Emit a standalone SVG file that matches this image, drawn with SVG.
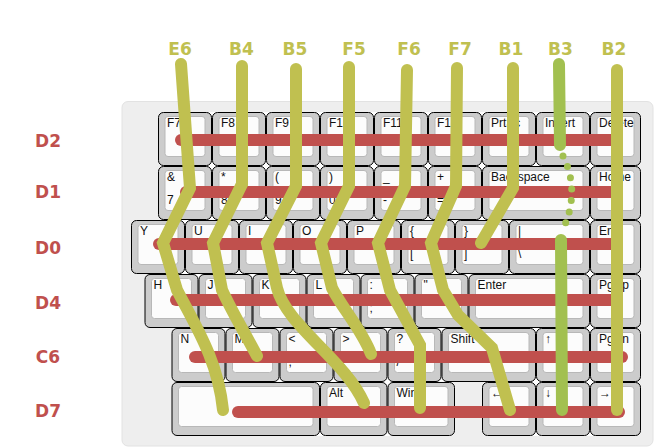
<svg xmlns="http://www.w3.org/2000/svg" width="664" height="447" viewBox="0 0 664 447">
<style>
.ul{fill:#ffffff}
.kb{fill:#cccccc;stroke:#000000;stroke-width:1}
.kf{fill:#fcfcfc;stroke:#b8b8b8;stroke-width:1}
.kl{font-family:"Liberation Sans",Arial,sans-serif;font-size:12px;fill:#111111}
.rt{fill:none;stroke:#c0504d;stroke-width:12;stroke-linecap:round}
.yt{fill:none;stroke:#c0c050;stroke-width:12;stroke-linecap:round;stroke-linejoin:miter}
.gt{fill:none;stroke:#a2c050;stroke-width:12;stroke-linecap:round}
.gd{fill:none;stroke:#a2c050;stroke-width:7;stroke-linecap:round;stroke-dasharray:0 11.5}
.rl{font-family:"DejaVu Sans",sans-serif;font-weight:bold;font-size:17px;fill:#c0504d;text-anchor:middle}
.cl{font-family:"DejaVu Sans",sans-serif;font-weight:bold;font-size:17px;fill:#c0c050;text-anchor:middle}
</style>
<rect x="122" y="101.5" width="531" height="344.5" rx="6" fill="#eeeeee" stroke="#e2e2e2"/>
<g id="underlay">
<rect class="ul" x="162" y="112" width="475" height="54"/>
<rect class="ul" x="162" y="166" width="475" height="54"/>
<rect class="ul" x="135" y="220" width="502" height="54"/>
<rect class="ul" x="148.5" y="274" width="488.5" height="54"/>
<rect class="ul" x="175.5" y="328" width="461.5" height="54"/>
<rect class="ul" x="175.5" y="382" width="275.5" height="54"/>
<rect class="ul" x="486" y="382" width="151" height="54"/>
</g>
<g id="keys">
<g id="k-F7"><rect class="kb" x="158.5" y="112.5" width="53" height="53" rx="5"/><rect class="kf" x="165" y="116.5" width="40" height="40" rx="3"/><text class="kl" x="167" y="127">F7</text></g>
<g id="k-F8"><rect class="kb" x="212.5" y="112.5" width="53" height="53" rx="5"/><rect class="kf" x="219" y="116.5" width="40" height="40" rx="3"/><text class="kl" x="221" y="127">F8</text></g>
<g id="k-F9"><rect class="kb" x="266.5" y="112.5" width="53" height="53" rx="5"/><rect class="kf" x="273" y="116.5" width="40" height="40" rx="3"/><text class="kl" x="275" y="127">F9</text></g>
<g id="k-F10"><rect class="kb" x="320.5" y="112.5" width="53" height="53" rx="5"/><rect class="kf" x="327" y="116.5" width="40" height="40" rx="3"/><text class="kl" x="329" y="127">F10</text></g>
<g id="k-F11"><rect class="kb" x="374.5" y="112.5" width="53" height="53" rx="5"/><rect class="kf" x="381" y="116.5" width="40" height="40" rx="3"/><text class="kl" x="383" y="127">F11</text></g>
<g id="k-F12"><rect class="kb" x="428.5" y="112.5" width="53" height="53" rx="5"/><rect class="kf" x="435" y="116.5" width="40" height="40" rx="3"/><text class="kl" x="437" y="127">F12</text></g>
<g id="k-PrtSc"><rect class="kb" x="482.5" y="112.5" width="53" height="53" rx="5"/><rect class="kf" x="489" y="116.5" width="40" height="40" rx="3"/><text class="kl" x="491" y="127">PrtSc</text></g>
<g id="k-Insert"><rect class="kb" x="536.5" y="112.5" width="53" height="53" rx="5"/><rect class="kf" x="543" y="116.5" width="40" height="40" rx="3"/><text class="kl" x="545" y="127">Insert</text></g>
<g id="k-Delete"><rect class="kb" x="590.5" y="112.5" width="50" height="53" rx="5"/><rect class="kf" x="597" y="116.5" width="37" height="40" rx="3"/><text class="kl" x="599" y="127">Delete</text></g>

<g id="k-7"><rect class="kb" x="158.5" y="166.5" width="53" height="53" rx="5"/><rect class="kf" x="165" y="170.5" width="40" height="40" rx="3"/><text class="kl" x="167" y="181">&amp;</text><text class="kl" x="167" y="204">7</text></g>
<g id="k-8"><rect class="kb" x="212.5" y="166.5" width="53" height="53" rx="5"/><rect class="kf" x="219" y="170.5" width="40" height="40" rx="3"/><text class="kl" x="221" y="181">*</text><text class="kl" x="221" y="204">8</text></g>
<g id="k-9"><rect class="kb" x="266.5" y="166.5" width="53" height="53" rx="5"/><rect class="kf" x="273" y="170.5" width="40" height="40" rx="3"/><text class="kl" x="275" y="181">(</text><text class="kl" x="275" y="204">9</text></g>
<g id="k-0"><rect class="kb" x="320.5" y="166.5" width="53" height="53" rx="5"/><rect class="kf" x="327" y="170.5" width="40" height="40" rx="3"/><text class="kl" x="329" y="181">)</text><text class="kl" x="329" y="204">0</text></g>
<g id="k-minus"><rect class="kb" x="374.5" y="166.5" width="53" height="53" rx="5"/><rect class="kf" x="381" y="170.5" width="40" height="40" rx="3"/><text class="kl" x="383" y="181">_</text><text class="kl" x="383" y="204">-</text></g>
<g id="k-equal"><rect class="kb" x="428.5" y="166.5" width="53" height="53" rx="5"/><rect class="kf" x="435" y="170.5" width="40" height="40" rx="3"/><text class="kl" x="437" y="181">+</text><text class="kl" x="437" y="204">=</text></g>
<g id="k-Backspace"><rect class="kb" x="482.5" y="166.5" width="107" height="53" rx="5"/><rect class="kf" x="489" y="170.5" width="94" height="40" rx="3"/><text class="kl" x="491" y="181">Backspace</text></g>
<g id="k-Home"><rect class="kb" x="590.5" y="166.5" width="50" height="53" rx="5"/><rect class="kf" x="597" y="170.5" width="37" height="40" rx="3"/><text class="kl" x="599" y="181">Home</text></g>

<g id="k-Y"><rect class="kb" x="131.5" y="220.5" width="53" height="53" rx="5"/><rect class="kf" x="138" y="224.5" width="40" height="40" rx="3"/><text class="kl" x="140" y="235">Y</text></g>
<g id="k-U"><rect class="kb" x="185.5" y="220.5" width="53" height="53" rx="5"/><rect class="kf" x="192" y="224.5" width="40" height="40" rx="3"/><text class="kl" x="194" y="235">U</text></g>
<g id="k-I"><rect class="kb" x="239.5" y="220.5" width="53" height="53" rx="5"/><rect class="kf" x="246" y="224.5" width="40" height="40" rx="3"/><text class="kl" x="248" y="235">I</text></g>
<g id="k-O"><rect class="kb" x="293.5" y="220.5" width="53" height="53" rx="5"/><rect class="kf" x="300" y="224.5" width="40" height="40" rx="3"/><text class="kl" x="302" y="235">O</text></g>
<g id="k-P"><rect class="kb" x="347.5" y="220.5" width="53" height="53" rx="5"/><rect class="kf" x="354" y="224.5" width="40" height="40" rx="3"/><text class="kl" x="356" y="235">P</text></g>
<g id="k-lbracket"><rect class="kb" x="401.5" y="220.5" width="53" height="53" rx="5"/><rect class="kf" x="408" y="224.5" width="40" height="40" rx="3"/><text class="kl" x="410" y="235">{</text><text class="kl" x="410" y="258">[</text></g>
<g id="k-rbracket"><rect class="kb" x="455.5" y="220.5" width="53" height="53" rx="5"/><rect class="kf" x="462" y="224.5" width="40" height="40" rx="3"/><text class="kl" x="464" y="235">}</text><text class="kl" x="464" y="258">]</text></g>
<g id="k-backslash"><rect class="kb" x="509.5" y="220.5" width="80" height="53" rx="5"/><rect class="kf" x="516" y="224.5" width="67" height="40" rx="3"/><text class="kl" x="518" y="235">|</text><text class="kl" x="518" y="258">\</text></g>
<g id="k-End"><rect class="kb" x="590.5" y="220.5" width="50" height="53" rx="5"/><rect class="kf" x="597" y="224.5" width="37" height="40" rx="3"/><text class="kl" x="599" y="235">End</text></g>

<g id="k-H"><rect class="kb" x="145" y="274.5" width="53" height="53" rx="5"/><rect class="kf" x="151.5" y="278.5" width="40" height="40" rx="3"/><text class="kl" x="153.5" y="289">H</text></g>
<g id="k-J"><rect class="kb" x="199" y="274.5" width="53" height="53" rx="5"/><rect class="kf" x="205.5" y="278.5" width="40" height="40" rx="3"/><text class="kl" x="207.5" y="289">J</text></g>
<g id="k-K"><rect class="kb" x="253" y="274.5" width="53" height="53" rx="5"/><rect class="kf" x="259.5" y="278.5" width="40" height="40" rx="3"/><text class="kl" x="261.5" y="289">K</text></g>
<g id="k-L"><rect class="kb" x="307" y="274.5" width="53" height="53" rx="5"/><rect class="kf" x="313.5" y="278.5" width="40" height="40" rx="3"/><text class="kl" x="315.5" y="289">L</text></g>
<g id="k-semicolon"><rect class="kb" x="361" y="274.5" width="53" height="53" rx="5"/><rect class="kf" x="367.5" y="278.5" width="40" height="40" rx="3"/><text class="kl" x="369.5" y="289">:</text><text class="kl" x="369.5" y="312">;</text></g>
<g id="k-quote"><rect class="kb" x="415" y="274.5" width="53" height="53" rx="5"/><rect class="kf" x="421.5" y="278.5" width="40" height="40" rx="3"/><text class="kl" x="423.5" y="289">"</text><text class="kl" x="423.5" y="312">'</text></g>
<g id="k-Enter"><rect class="kb" x="469" y="274.5" width="120.5" height="53" rx="5"/><rect class="kf" x="475.5" y="278.5" width="107.5" height="40" rx="3"/><text class="kl" x="477.5" y="289">Enter</text></g>
<g id="k-PgUp"><rect class="kb" x="590.5" y="274.5" width="50" height="53" rx="5"/><rect class="kf" x="597" y="278.5" width="37" height="40" rx="3"/><text class="kl" x="599" y="289">PgUp</text></g>

<g id="k-N"><rect class="kb" x="172" y="328.5" width="53" height="53" rx="5"/><rect class="kf" x="178.5" y="332.5" width="40" height="40" rx="3"/><text class="kl" x="180.5" y="343">N</text></g>
<g id="k-M"><rect class="kb" x="226" y="328.5" width="53" height="53" rx="5"/><rect class="kf" x="232.5" y="332.5" width="40" height="40" rx="3"/><text class="kl" x="234.5" y="343">M</text></g>
<g id="k-comma"><rect class="kb" x="280" y="328.5" width="53" height="53" rx="5"/><rect class="kf" x="286.5" y="332.5" width="40" height="40" rx="3"/><text class="kl" x="288.5" y="343">&lt;</text><text class="kl" x="288.5" y="366">,</text></g>
<g id="k-period"><rect class="kb" x="334" y="328.5" width="53" height="53" rx="5"/><rect class="kf" x="340.5" y="332.5" width="40" height="40" rx="3"/><text class="kl" x="342.5" y="343">&gt;</text><text class="kl" x="342.5" y="366">.</text></g>
<g id="k-slash"><rect class="kb" x="388" y="328.5" width="53" height="53" rx="5"/><rect class="kf" x="394.5" y="332.5" width="40" height="40" rx="3"/><text class="kl" x="396.5" y="343">?</text><text class="kl" x="396.5" y="366">/</text></g>
<g id="k-Shift"><rect class="kb" x="442" y="328.5" width="93.5" height="53" rx="5"/><rect class="kf" x="448.5" y="332.5" width="80.5" height="40" rx="3"/><text class="kl" x="450.5" y="343">Shift</text></g>
<g id="k-Up"><rect class="kb" x="536.5" y="328.5" width="53" height="53" rx="5"/><rect class="kf" x="543" y="332.5" width="40" height="40" rx="3"/><text class="kl" x="545" y="343">↑</text></g>
<g id="k-PgDn"><rect class="kb" x="590.5" y="328.5" width="50" height="53" rx="5"/><rect class="kf" x="597" y="332.5" width="37" height="40" rx="3"/><text class="kl" x="599" y="343">PgDn</text></g>

<g id="k-Space"><rect class="kb" x="172" y="382.5" width="147.5" height="53" rx="5"/><rect class="kf" x="178.5" y="386.5" width="134.5" height="40" rx="3"/></g>
<g id="k-Alt"><rect class="kb" x="320.5" y="382.5" width="66.5" height="53" rx="5"/><rect class="kf" x="327" y="386.5" width="53.5" height="40" rx="3"/><text class="kl" x="329" y="397">Alt</text></g>
<g id="k-Win"><rect class="kb" x="388" y="382.5" width="66.5" height="53" rx="5"/><rect class="kf" x="394.5" y="386.5" width="53.5" height="40" rx="3"/><text class="kl" x="396.5" y="397">Win</text></g>
<g id="k-Left"><rect class="kb" x="482.5" y="382.5" width="53" height="53" rx="5"/><rect class="kf" x="489" y="386.5" width="40" height="40" rx="3"/><text class="kl" x="491" y="397">←</text></g>
<g id="k-Down"><rect class="kb" x="536.5" y="382.5" width="53" height="53" rx="5"/><rect class="kf" x="543" y="386.5" width="40" height="40" rx="3"/><text class="kl" x="545" y="397">↓</text></g>
<g id="k-Right"><rect class="kb" x="590.5" y="382.5" width="50" height="53" rx="5"/><rect class="kf" x="597" y="386.5" width="37" height="40" rx="3"/><text class="kl" x="599" y="397">→</text></g>
</g>

<g id="connectors">
<g id="rows">
<path class="rt" d="M181 140 H617"/>
<path class="rt" d="M186 192 H617"/>
<path class="rt" d="M159 244 H617"/>
<path class="rt" d="M176 300 H617"/>
<path class="rt" d="M195 357 H622"/>
<path class="rt" d="M238 412 H619"/>
</g>
<g id="cols">
<path class="yt" d="M181 64 L190 188 L163 243 L177 290 C195 325 218 360 223 410"/>
<path class="yt" d="M242 66 L242 184 L213 243 L222 290 C232 312 245 333 257 356"/>
<path class="yt" d="M296 69 L296 186 L267 243 L277 288 C286 325 345 360 364 403"/>
<path class="yt" d="M349 67 L349 186 L321 243 L332 288 C342 308 362 330 371 354"/>
<path class="yt" d="M407 70 L405 186 L378 243 L390 290 L420 345 L420 408"/>
<path class="yt" d="M457 68 L456 186 L431 243 L443 290 L458 315 L492 348 L510 410"/>
<path class="yt" d="M513 68 L513 188 L481 243"/>
<path class="gt" d="M559 64 L560 145"/>
<path class="gd" d="M563 156 Q580 190 564 227"/>
<path class="gt" d="M561 240 L562 410"/>
<path class="yt" d="M617 70 L617 410"/>
</g>
</g>

<g id="row-labels">
<text class="rl" x="48" y="147">D2</text>
<text class="rl" x="48" y="198">D1</text>
<text class="rl" x="48" y="254">D0</text>
<text class="rl" x="48" y="309">D4</text>
<text class="rl" x="48" y="363">C6</text>
<text class="rl" x="48" y="417">D7</text>
</g>
<g id="col-labels">
<text class="cl" x="180" y="55">E6</text>
<text class="cl" x="241.5" y="55">B4</text>
<text class="cl" x="295" y="55">B5</text>
<text class="cl" x="354" y="55">F5</text>
<text class="cl" x="409" y="55">F6</text>
<text class="cl" x="460" y="55">F7</text>
<text class="cl" x="511" y="55">B1</text>
<text class="cl" x="560.5" y="55">B3</text>
<text class="cl" x="614" y="55">B2</text>
</g>
</svg>
